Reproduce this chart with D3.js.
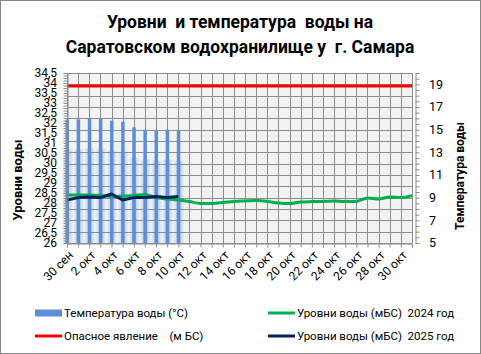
<!DOCTYPE html>
<html>
<head>
<meta charset="utf-8">
<script src="https://cdn.jsdelivr.net/npm/d3@7"></script>
<style>
  html, body { margin: 0; padding: 0; background: #fff; }
  svg { display: block; }
</style>
</head>
<body>
<svg id="chart" width="481" height="354"></svg>
<script>
// dates on the category axis
const dates = ["30 сен", "1 окт", "2 окт", "3 окт", "4 окт", "5 окт", "6 окт", "7 окт", "8 окт", "9 окт",
  "10 окт", "11 окт", "12 окт", "13 окт", "14 окт", "15 окт", "16 окт", "17 окт", "18 окт", "19 окт",
  "20 окт", "21 окт", "22 окт", "23 окт", "24 окт", "25 окт", "26 окт", "27 окт", "28 окт", "29 окт",
  "30 окт", "31 окт"];

// water temperature, °C (right axis)
const temperature = [15.9, 15.9, 16.0, 16.0, 15.8, 15.7, 15.2, 15.0, 14.9, 15.0, 14.9];

// water levels, m BS (left axis)
const level2024 = [28.4, 28.4, 28.4, 28.38, 28.33, 28.35, 28.37, 28.43, 28.27, 28.2,
  28.15, 28.07, 27.98, 27.98, 28.02, 28.08, 28.1, 28.12, 28.08, 28.0,
  27.97, 28.05, 28.07, 28.08, 28.1, 28.07, 28.08, 28.25, 28.2, 28.3,
  28.27, 28.37];
const level2025 = [28.15, 28.27, 28.3, 28.27, 28.45, 28.15, 28.27, 28.27, 28.32, 28.28, 28.33];
const dangerLevel = 33.85;

const leftTicks = [26, 26.5, 27, 27.5, 28, 28.5, 29, 29.5, 30, 30.5, 31, 31.5, 32, 32.5, 33, 33.5, 34, 34.5];
const rightTicks = [5, 7, 9, 11, 13, 15, 17, 19];

const titleLines = ["Уровни  и температура  воды на", "Саратовском водохранилище у  г. Самара"];

const font = "Roboto, 'Noto Sans', sans-serif";
const svg = d3.select("#chart");
const plot = { left: 67, right: 412, top: 73, bottom: 243 };

const x = d3.scalePoint().domain(dates).range([plot.left, plot.right]);
const yL = d3.scaleLinear().domain([26, 34.5]).range([plot.bottom, plot.top]);
const yR = d3.scaleLinear().domain([5, 20]).range([plot.bottom, plot.top]);

// outer border
svg.append("rect")
  .attr("x", 0.5).attr("y", 0.5).attr("width", 480).attr("height", 353)
  .attr("fill", "#fff").attr("stroke", "#868686");

// title
svg.append("g").selectAll("text")
  .data(titleLines)
  .enter().append("text")
  .attr("x", 240).attr("y", (d, i) => 28 + i * 25)
  .attr("text-anchor", "middle")
  .style("font-family", font).style("font-size", "17.5px").style("font-weight", 700)
  .style("white-space", "pre")
  .text(d => d);

// plot background
svg.append("rect")
  .attr("x", plot.left).attr("y", plot.top)
  .attr("width", plot.right - plot.left).attr("height", plot.bottom - plot.top)
  .attr("fill", "#f2f2f2");

// grid
const grid = svg.append("g").attr("stroke", "#8c8c8c").attr("stroke-width", 1);
grid.selectAll(".v").data(dates).enter().append("line")
  .attr("x1", d => Math.round(x(d)) + 0.5).attr("x2", d => Math.round(x(d)) + 0.5)
  .attr("y1", plot.top).attr("y2", plot.bottom);
grid.selectAll(".h").data(d3.range(5, 21)).enter().append("line")
  .attr("x1", plot.left).attr("x2", plot.right)
  .attr("y1", d => Math.round(yR(d)) + 0.5).attr("y2", d => Math.round(yR(d)) + 0.5);

// temperature bars with a soft glow
const defs = svg.append("defs");
const glow = defs.append("linearGradient").attr("id", "glow")
  .attr("x1", 0).attr("x2", 1).attr("y1", 0).attr("y2", 0);
glow.append("stop").attr("offset", "0%").attr("stop-color", "#5b8fd8").attr("stop-opacity", 0);
glow.append("stop").attr("offset", "50%").attr("stop-color", "#5b8fd8").attr("stop-opacity", 0.45);
glow.append("stop").attr("offset", "100%").attr("stop-color", "#5b8fd8").attr("stop-opacity", 0);

const bars = svg.append("g");
bars.selectAll(".halo")
  .data(temperature)
  .enter().append("rect")
  .attr("x", (d, i) => x(dates[i]) - 5)
  .attr("width", 11)
  .attr("y", d => yR(d) + 30)
  .attr("height", d => plot.bottom - yR(d) - 30)
  .attr("fill", "url(#glow)");
bars.selectAll(".bar")
  .data(temperature)
  .enter().append("rect")
  .attr("x", (d, i) => x(dates[i]) - 1.5)
  .attr("width", 3.5)
  .attr("y", d => yR(d))
  .attr("height", d => plot.bottom - yR(d))
  .attr("fill", "#5b8fd8");

// lines
const line = d3.line().x((d, i) => x(dates[i])).y(d => yL(d)).curve(d3.curveMonotoneX);
svg.append("path")
  .attr("d", line(dates.map(() => dangerLevel)))
  .attr("fill", "none").attr("stroke", "#ff0000").attr("stroke-width", 3);
svg.append("path")
  .attr("d", line(level2024))
  .attr("fill", "none").attr("stroke", "#00b050").attr("stroke-width", 3)
  .attr("stroke-linejoin", "round");
svg.append("path")
  .attr("d", d3.line().x((d, i) => x(dates[i])).y(d => yL(d))(level2025))
  .attr("fill", "none").attr("stroke", "#002060").attr("stroke-width", 3)
  .attr("stroke-linejoin", "round");

// left axis
const leftAxis = svg.append("g").attr("transform", `translate(${plot.left + 0.5},0)`)
  .call(d3.axisLeft(yL).tickValues(d3.range(26, 34.51, 0.125)).tickSize(4).tickFormat(""));
leftAxis.selectAll("line").attr("stroke", "#8c8c8c");
leftAxis.select(".domain").attr("stroke", "#8c8c8c");
svg.append("g").selectAll("text")
  .data(leftTicks)
  .enter().append("text")
  .attr("x", 57).attr("y", d => yL(d))
  .attr("dy", "0.35em")
  .attr("text-anchor", "end")
  .style("font-family", font).style("font-size", "12px")
  .text(d => String(d).replace(".", ","));

// right axis
const rightAxis = svg.append("g").attr("transform", `translate(${plot.right + 3.5},0)`)
  .call(d3.axisRight(yR).tickValues(d3.range(5, 20.01, 0.5)).tickSize(4).tickFormat(""));
rightAxis.selectAll("line").attr("stroke", "#8c8c8c");
rightAxis.select(".domain").attr("stroke", "#8c8c8c");
svg.append("g").selectAll("text")
  .data(rightTicks)
  .enter().append("text")
  .attr("x", 429).attr("y", d => yR(d))
  .attr("dy", "0.35em")
  .style("font-family", font).style("font-size", "12.5px")
  .text(d => d);

// bottom axis
const bottomAxis = svg.append("g").attr("transform", `translate(0,${plot.bottom + 0.5})`)
  .call(d3.axisBottom(x).tickSize(4).tickFormat(""));
bottomAxis.selectAll("line").attr("stroke", "#8c8c8c");
bottomAxis.select(".domain").attr("stroke", "#8c8c8c");
svg.append("g").selectAll("text")
  .data(dates.filter((d, i) => i % 2 === 0))
  .enter().append("text")
  .attr("transform", d => `translate(${x(d) + 4},${plot.bottom + 10}) rotate(-45)`)
  .attr("text-anchor", "end")
  .attr("dy", "0.35em")
  .style("font-family", font).style("font-size", "12px")
  .text(d => d);

// axis titles
svg.append("text")
  .attr("transform", "translate(17,180) rotate(-90)")
  .attr("text-anchor", "middle").attr("dominant-baseline", "central")
  .style("font-family", font).style("font-size", "13px").style("font-weight", 700)
  .text("Уровни воды");
svg.append("text")
  .attr("transform", "translate(460,176) rotate(-90)")
  .attr("text-anchor", "middle").attr("dominant-baseline", "central")
  .style("font-family", font).style("font-size", "12px").style("font-weight", 700)
  .text("Температура воды");

// legend
const legendItems = [
  { name: "Температура воды (°С)", color: "#5b8fd8", kind: "bar", x: 35, y: 313 },
  { name: "Опасное явление    (м БС)", color: "#ff0000", kind: "line", x: 35, y: 336 },
  { name: "Уровни воды (мБС)  2024 год", color: "#00b050", kind: "line", x: 268, y: 313 },
  { name: "Уровни воды (мБС)  2025 год", color: "#002060", kind: "line", x: 268, y: 336 }
];
const legend = svg.append("g").selectAll("g")
  .data(legendItems)
  .enter().append("g")
  .attr("transform", d => `translate(${d.x},${d.y})`);
legend.filter(d => d.kind === "bar").append("rect")
  .attr("x", 0).attr("y", -3.5).attr("width", 27).attr("height", 7)
  .attr("fill", d => d.color);
legend.filter(d => d.kind === "line").append("line")
  .attr("x1", 0).attr("x2", 27).attr("y1", 0).attr("y2", 0)
  .attr("stroke", d => d.color).attr("stroke-width", 3);
legend.append("text")
  .attr("x", 29).attr("y", 0).attr("dy", "0.35em")
  .style("font-family", font).style("font-size", "11.5px")
  .style("white-space", "pre")
  .text(d => d.name);
</script>
</body>
</html>
